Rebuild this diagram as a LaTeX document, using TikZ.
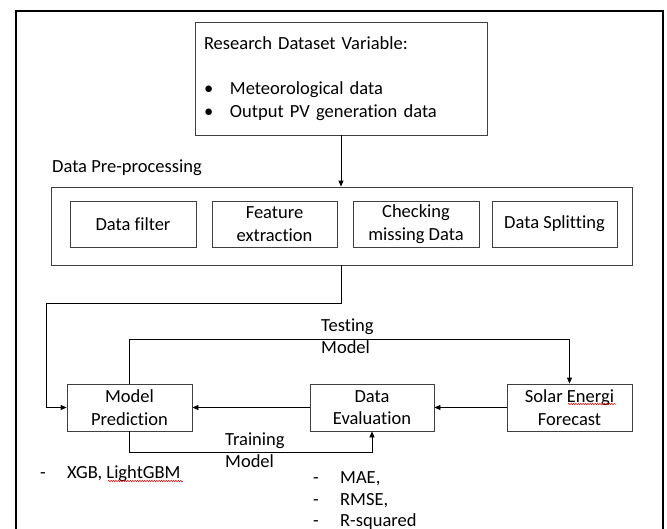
\documentclass[tikz,border=0pt]{standalone}
\usepackage{fontspec}
\setmainfont{Carlito}[Ligatures=NoCommon]
\usetikzlibrary{arrows.meta,decorations.pathmorphing}
\newcommand{\dfont}{\fontsize{18.5}{22.5}\selectfont}
\begin{document}
\begin{tikzpicture}[x=1pt,y=-1pt,
  box/.style={draw=black!75, line width=0.8pt, inner sep=0pt, align=center, font=\dfont},
  conn/.style={draw=black, line width=0.8pt},
  arr/.style={conn, -{Triangle[length=6pt,width=5pt]}},
  lbl/.style={inner sep=0pt, font=\dfont, align=left},
  spell/.style={draw=red!85!black, line width=0.5pt, decorate, decoration={snake, amplitude=0.7pt, segment length=2.4pt}},
]
\useasboundingbox (0,0) rectangle (667,528);
\fill[white] (0,0) rectangle (667,528);
% outer frame (bottom edge cropped)
\draw[line width=1.3pt] (16,529) -- (16,11) -- (663,11) -- (663,529);

% top box
\node[box, minimum width=292pt, minimum height=113pt, text width=274pt, align=left] (top) at (341,78.5)
  {Research Dataset Variable:\\[22.5pt]
   \makebox[26pt][l]{•}Meteorological data\\
   \makebox[26pt][l]{•}Output PV generation data};

% pre-processing
\node[lbl, anchor=west] (prelbl) at (52,168) {Data Pre-processing};
\node[box, minimum width=581pt, minimum height=78pt] (pre) at (341.5,226) {};
\node[box, minimum width=126pt, minimum height=46pt] (filt) at (133,224) {Data filter};
\node[box, minimum width=125pt, minimum height=46pt] (feat) at (274.5,224) {Feature\\extraction};
\node[box, minimum width=126pt, minimum height=46pt] (miss) at (416,224) {Checking\\missing Data};
\node[box, minimum width=125pt, minimum height=46pt] (split) at (554.5,224) {Data Splitting};

\draw[arr] (top.south) -- (top.south |- pre.north);

% bottom row
\node[box, minimum width=125pt, minimum height=47pt] (pred) at (129.5,407.5) {Model\\Prediction};
\node[box, minimum width=124pt, minimum height=47pt] (eval) at (372,407.5) {Data\\Evaluation};
\node[box, minimum width=125pt, minimum height=47pt] (solar) at (569.5,407.5) {Solar Energi\\Forecast};

\coordinate (j1) at (46,303);
\draw[arr] (pre.south) |- (j1) |- (pred.west);

\coordinate (tt) at (0,339);
\draw[arr] (pred.north) -- (pred.north |- tt) -| (solar.north);
\coordinate (tr) at (0,452);
\draw[arr] (pred.south) -- (pred.south |- tr) -| (eval.south);

\draw[arr] (solar.west) -- (eval.east);
\draw[arr] (eval.west) -- (pred.east);

\node[lbl, anchor=west] (testlbl) at (321,336.3) {Testing\\Model};
\node[lbl, anchor=west] (trainlbl) at (225,450.3) {Training\\Model};

\node[lbl, anchor=base west] (xgb) at (40,478) {\makebox[27pt][l]{-}XGB, LightGBM};
\node[lbl, anchor=base west] (mae) at (313,483) {\makebox[27pt][l]{-}MAE,};
\node[lbl, anchor=base west] (rmse) at (313,505) {\makebox[27pt][l]{-}RMSE,};
\node[lbl, anchor=base west] (rsq) at (313,526.5) {\makebox[27pt][l]{-}R-squared};

% spell-check marks
\draw[spell] (108,481) -- (183,481);
\draw[spell] (568,404) -- (616,404);
\end{tikzpicture}
\end{document}
